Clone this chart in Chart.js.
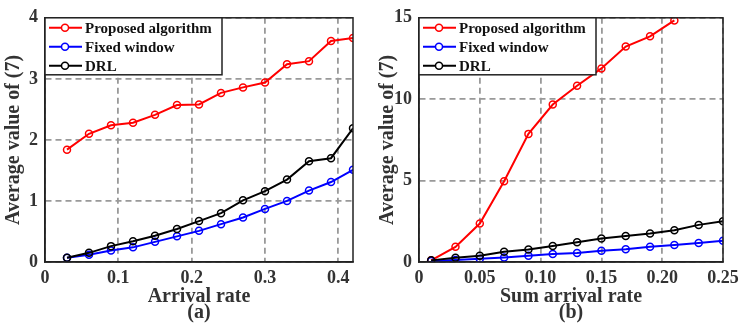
<!DOCTYPE html>
<html>
<head>
<meta charset="utf-8">
<script src="https://cdn.jsdelivr.net/npm/chart.js@4.4.0/dist/chart.umd.min.js"></script>
<style>
  body { margin: 0; background: #fff; }
  .box { position: absolute; top: 0; width: 374px; height: 327px; }
</style>
</head>
<body>
<div class="box" style="left:0"><canvas id="chartA"></canvas></div>
<div class="box" style="left:374px"><canvas id="chartB"></canvas></div>
<script>
// (a) arrival rate
var ratesA = [0.03, 0.06, 0.09, 0.12, 0.15, 0.18, 0.21, 0.24, 0.27, 0.30, 0.33, 0.36, 0.39, 0.42];
var proposedA = [1.84, 2.10, 2.24, 2.28, 2.41, 2.57, 2.58, 2.77, 2.86, 2.94, 3.24, 3.29, 3.62, 3.67];
var fixedA = [0.07, 0.12, 0.19, 0.24, 0.33, 0.42, 0.51, 0.62, 0.73, 0.87, 1.00, 1.17, 1.31, 1.51];
var drlA = [0.07, 0.15, 0.26, 0.34, 0.43, 0.54, 0.67, 0.80, 1.01, 1.16, 1.35, 1.65, 1.70, 2.19];

// (b) sum arrival rate
var ratesB = [0.01, 0.03, 0.05, 0.07, 0.09, 0.11, 0.13, 0.15, 0.17, 0.19, 0.21, 0.23, 0.25];
var proposedB = [0.10, 0.93, 2.36, 4.96, 7.87, 9.67, 10.83, 11.89, 13.23, 13.86, 14.84, null, null];
var fixedB = [0.06, 0.12, 0.20, 0.28, 0.39, 0.49, 0.55, 0.69, 0.79, 0.93, 1.04, 1.16, 1.30];
var drlB = [0.10, 0.26, 0.39, 0.63, 0.77, 0.98, 1.22, 1.44, 1.59, 1.75, 1.95, 2.28, 2.50];

var seriesNames = ['Proposed algorithm', 'Fixed window', 'DRL'];
var seriesColors = ['#ff0000', '#0000ff', '#000000'];

var serif = "'Liberation Serif', 'Times New Roman', serif";

function toPoints(xs, ys) {
  return xs.map(function(x, i) { return { x: x, y: ys[i] }; });
}

// box around plot + legend in the top-left corner
var frameLegend = {
  id: 'frameLegend',
  afterDraw: function(chart) {
    var ctx = chart.ctx, a = chart.chartArea;
    ctx.save();
    ctx.strokeStyle = '#222';
    ctx.lineWidth = 1.5;
    ctx.strokeRect(a.left, a.top, a.right - a.left, a.bottom - a.top);

    var lx = a.left, ly = a.top, lw = 177, lh = 57;
    ctx.fillStyle = '#fff';
    ctx.fillRect(lx, ly, lw, lh);
    ctx.strokeRect(lx, ly, lw, lh);
    ctx.font = 'bold 15px ' + serif;
    ctx.textBaseline = 'middle';
    // datasets are stored reversed (red drawn last), legend lists red first
    var list = chart.data.datasets.slice().reverse();
    list.forEach(function(ds, i) {
      var y = ly + 10 + i * 19;
      ctx.strokeStyle = ds.borderColor;
      ctx.lineWidth = 2;
      ctx.beginPath();
      ctx.moveTo(lx + 4, y);
      ctx.lineTo(lx + 37, y);
      ctx.stroke();
      ctx.lineWidth = 1.5;
      ctx.beginPath();
      ctx.arc(lx + 20, y, 3.5, 0, Math.PI * 2);
      ctx.fillStyle = '#fff';
      ctx.fill();
      ctx.stroke();
      ctx.fillStyle = '#111';
      ctx.fillText(ds.label, lx + 40, y + 1);
    });
    ctx.restore();
  }
};

function makeChart(id, xs, ys, xMax, xStep, yMax, yStep, xTitle, sub, rightPad) {
  var datasets = ys.map(function(vals, i) {
    return {
      label: seriesNames[i],
      data: toPoints(xs, vals),
      borderColor: seriesColors[i],
      backgroundColor: 'rgba(255,255,255,0)',
      borderWidth: 2,
      pointRadius: 3.5,
      pointBorderWidth: 1.5,
      pointBackgroundColor: 'rgba(255,255,255,0)',
      pointBorderColor: seriesColors[i],
      tension: 0
    };
  });
  // draw red on top like the reference
  datasets.reverse();
  var ctx = document.getElementById(id).getContext('2d');
  return new Chart(ctx, {
    type: 'line',
    data: { datasets: datasets },
    options: {
      responsive: true,
      maintainAspectRatio: false,
      animation: false,
      layout: { padding: { top: 15, right: rightPad, left: 0, bottom: 6 } },
      plugins: { legend: { display: false }, tooltip: { enabled: false } },
      scales: {
        x: {
          type: 'linear',
          min: 0, max: xMax,
          ticks: { stepSize: xStep, includeBounds: false, color: '#333', padding: 6,
                   font: { family: serif, size: 18, weight: 'bold' } },
          grid: { color: '#999', lineWidth: 1.8, drawTicks: false },
          border: { display: true, color: '#222', width: 1.5, dash: [6, 4] },
          title: { display: true, text: [xTitle, sub], color: '#333', padding: 0,
                   font: { family: serif, size: 20, weight: 'bold', lineHeight: 0.8 } },
          afterFit: function(s) { s.height = 59; }
        },
        y: {
          min: 0, max: yMax,
          ticks: { stepSize: yStep, color: '#333', padding: 7,
                   font: { family: serif, size: 18, weight: 'bold' } },
          grid: { color: '#999', lineWidth: 1.8, drawTicks: false },
          border: { display: true, color: '#222', width: 1.5, dash: [6, 4] },
          title: { display: true, text: 'Average value of (7)', color: '#333', padding: 2,
                   font: { family: serif, size: 20, weight: 'bold' } },
          afterFit: function(s) { s.width = 45; }
        }
      }
    },
    plugins: [frameLegend]
  });
}

var chartA = makeChart('chartA', ratesA, [proposedA, fixedA, drlA], 0.42, 0.1, 4, 1, 'Arrival rate', '(a)', 21);
var chartB = makeChart('chartB', ratesB, [proposedB, fixedB, drlB], 0.25, 0.05, 15, 5, 'Sum arrival rate', '(b)', 25);
</script>
</body>
</html>
